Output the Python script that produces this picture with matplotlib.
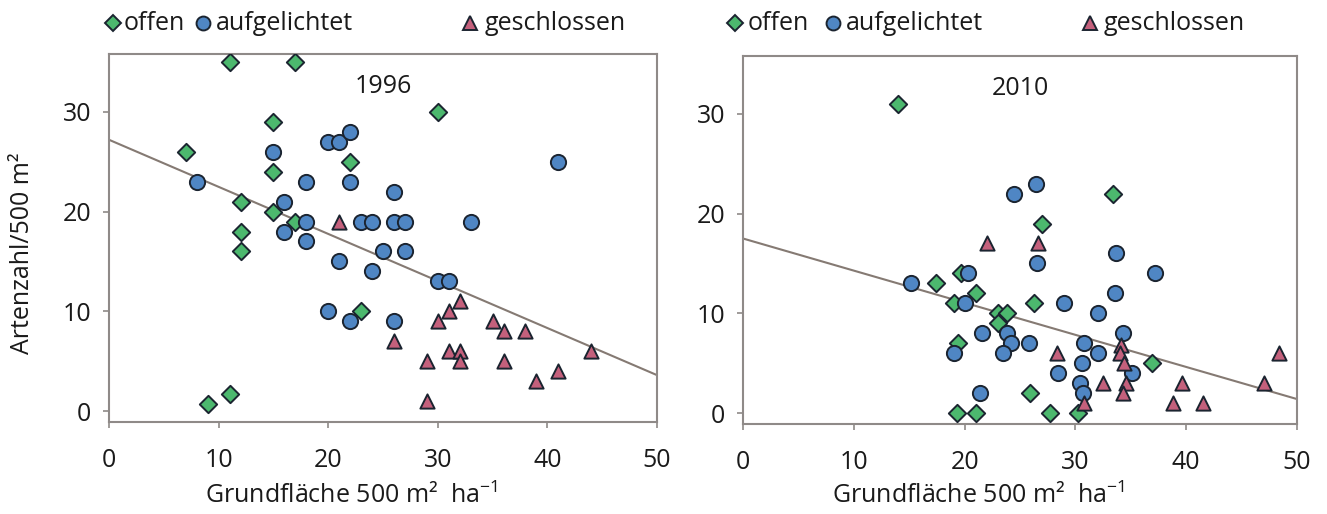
import matplotlib
matplotlib.use("Agg")
import matplotlib.pyplot as plt
from matplotlib.lines import Line2D

plt.rcParams['font.family'] = ['Open Sans', 'DejaVu Sans']
plt.rcParams['mathtext.fontset'] = 'custom'
plt.rcParams['mathtext.rm'] = 'Open Sans'

# ---------------- data: 1996 ----------------
offen96_x = [11, 17, 30, 15, 7, 22, 15, 12, 15, 17, 12, 12, 23, 9, 11]
offen96_y = [35, 35, 30, 29, 26, 25, 24, 21, 20, 19, 18, 16, 10, 0.7, 1.7]
auf96_x = [8, 15, 20, 21, 22, 18, 22, 26, 41, 16, 18, 23, 24, 26, 27, 33, 16, 18,
           25, 27, 21, 24, 30, 31, 20, 22, 26]
auf96_y = [23, 26, 27, 27, 28, 23, 23, 22, 25, 21, 19, 19, 19, 19, 19, 19, 18, 17,
           16, 16, 15, 14, 13, 13, 10, 9, 9]
ges96_x = [21, 32, 31, 30, 35, 36, 38, 26, 44, 31, 32, 29, 32, 36, 41, 39, 29]
ges96_y = [19, 11, 10, 9, 9, 8, 8, 7, 6, 6, 6, 5, 5, 5, 4, 3, 1]
trend96_x = [0, 50]
trend96_y = [27.2, 3.6]

# ---------------- data: 2010 ----------------
offen10_x = [14, 33.4, 27, 19.7, 17.4, 21, 19, 26.3, 23, 23.8, 23, 19.4, 36.9, 25.9,
             19.3, 21, 27.7, 30.2]
offen10_y = [31, 22, 19, 14, 13, 12, 11, 11, 10, 10, 9, 7, 5, 2, 0, 0, 0, 0]
auf10_x = [24.5, 26.4, 33.7, 26.5, 37.2, 20.3, 15.2, 33.6, 20, 29, 32, 34.3, 21.6,
           23.8, 24.2, 25.8, 30.8, 19, 23.5, 32, 30.6, 35.1, 28.4, 30.4, 30.7, 21.4]
auf10_y = [22, 23, 16, 15, 14, 14, 13, 12, 11, 11, 10, 8, 8,
           8, 7, 7, 7, 6, 6, 6, 5, 4, 4, 3, 2, 2]
ges10_x = [22, 26.6, 34.1, 28.3, 34, 48.4, 34.4, 32.5, 34.6, 39.6, 47, 34.3, 30.8,
           38.8, 41.5]
ges10_y = [17, 17, 6.8, 6, 6, 6, 5, 3, 3, 3, 3, 2, 1, 1, 1]
trend10_x = [0, 50]
trend10_y = [17.5, 1.4]

labels = ['offen', 'aufgelichtet', 'geschlossen']
years = ['1996', '2010']
x_ticks = [0, 10, 20, 30, 40, 50]
y_ticks = [0, 10, 20, 30]

green = '#4cb86e'
blue = '#4f86c4'
pink = '#c4607c'
edge = '#1b2430'
spine_col = '#8f8a88'
line_col = '#857a73'
txt = '#1a1a1a'

W, H = 1327, 514
fig = plt.figure(figsize=(W / 100, H / 100), dpi=100)
ax1 = fig.add_axes([109 / W, 1 - 422 / H, (657 - 109) / W, (422 - 54) / H])
ax2 = fig.add_axes([743 / W, 1 - 424 / H, (1297 - 743) / W, (424 - 56) / H])

panels = [
    (ax1, offen96_x, offen96_y, auf96_x, auf96_y, ges96_x, ges96_y, trend96_x, trend96_y, years[0]),
    (ax2, offen10_x, offen10_y, auf10_x, auf10_y, ges10_x, ges10_y, trend10_x, trend10_y, years[1]),
]

for ax, ox, oy, ax_, ay, gx, gy, tx, ty, yr in panels:
    ax.plot(tx, ty, color=line_col, lw=1.5, zorder=1)
    ax.scatter(ox, oy, marker='D', s=78, color=green, edgecolor=edge, linewidth=1.4, zorder=3)
    ax.scatter(ax_, ay, marker='o', s=120, color=blue, edgecolor=edge, linewidth=1.4, zorder=3)
    ax.scatter(gx, gy, marker='^', s=105, color=pink, edgecolor=edge, linewidth=1.4, zorder=3)
    ax.set_xlim(0, 50)
    ax.set_ylim(-1.1, 35.8)
    ax.set_xticks(x_ticks)
    ax.set_yticks(y_ticks)
    ax.tick_params(axis='both', colors=spine_col, labelcolor=txt, labelsize=18,
                   length=4, width=1.2)
    ax.tick_params(axis='x', pad=15)
    ax.tick_params(axis='y', pad=9)
    for sp in ax.spines.values():
        sp.set_color(spine_col)
        sp.set_linewidth(1.5)
    ax.text(25, 32.5, yr, ha='center', va='center', fontsize=18, color=txt)
    ax.set_xlabel('Grundfläche 500 m²  ha$^{\\mathrm{-1}}$', fontsize=18, color=txt)

ax1.xaxis.set_label_coords(0.443, -0.165)
ax2.xaxis.set_label_coords(0.424, -0.160)

ax1.set_ylabel('Artenzahl/500 m²', fontsize=18, color=txt)
ax1.yaxis.set_label_coords(-0.135, 0.46)

# legend rows above each panel (marker centre x, text start x in pixels)
legend_rows = [
    [(113, 124), (203, 216), (470, 485)],
    [(735, 748), (833, 846), (1090, 1104)],
]
legend_markers = [('D', 8, green), ('o', 10, blue), ('^', 10, pink)]
ly = 1 - 23 / H
for row in legend_rows:
    for (mx, tx_), (mk, ms, col), lab in zip(row, legend_markers, labels):
        fig.add_artist(Line2D([mx / W], [ly], marker=mk, markersize=ms, ls='none',
                              markerfacecolor=col, markeredgecolor=edge,
                              markeredgewidth=1.4, transform=fig.transFigure))
        fig.text(tx_ / W, ly, lab, ha='left', va='center', fontsize=18, color=txt)

fig.savefig('out.png', dpi=100, facecolor='white')
